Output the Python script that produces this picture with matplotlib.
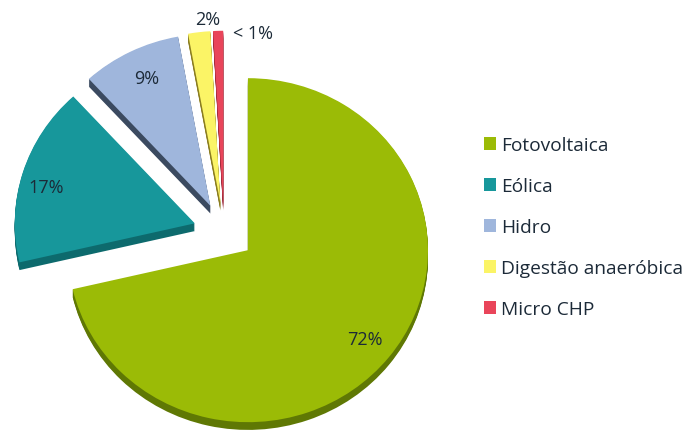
import matplotlib.pyplot as plt
from matplotlib.patches import Wedge
import numpy as np

# energy sources and their share of installed capacity
sources = ['Fotovoltaica', 'Eólica', 'Hidro', 'Digestão anaeróbica', 'Micro CHP']
shares = [72, 17, 9, 2, 0.9]
share_labels = ['72%', '17%', '9%', '2%', '< 1%']

top_colors = ['#9bbb06', '#17979b', '#9fb6dc', '#fbf466', '#e9455a']
side_colors = ['#5f7804', '#0d6a6d', '#3b4a60', '#8a7d20', '#9a2434']

# label placement: distance from the slice tip and a small angular nudge
label_dist = [0.83, 0.85, 0.82, 1.07, 1.00]
label_nudge = [0, 3, -1, -3, -11]

plt.rcParams['font.family'] = ['Open Sans', 'DejaVu Sans']

fig = plt.figure(figsize=(6.88, 4.31), dpi=100)
ax = fig.add_axes([0, 0, 1, 1])

wedges, _ = ax.pie(shares, colors=top_colors, startangle=90, counterclock=False,
                   explode=[0.17] * len(shares),
                   wedgeprops=dict(linewidth=0, zorder=3))

# fake 3d: extrude each slice downwards in a darker shade
depth = 0.045
for w, c in zip(wedges, side_colors):
    for dy in np.linspace(0.005, depth, 8):
        side = Wedge((w.center[0], w.center[1] - dy), w.r, w.theta1, w.theta2,
                     facecolor=c, edgecolor='none', zorder=2)
        ax.add_patch(side)

for w, txt, d, nud in zip(wedges, share_labels, label_dist, label_nudge):
    mid = np.deg2rad((w.theta1 + w.theta2) / 2 + nud)
    x = w.center[0] + d * np.cos(mid)
    y = w.center[1] + d * np.sin(mid)
    ax.text(x, y, txt, ha='center', va='center', fontsize=13,
            color='#1c2a38', zorder=5)

ax.set_aspect('auto')
ax.set_xlim(-224 / 180, (688 - 224) / 180)
ax.set_ylim(-(431 - 233) / 172, 233 / 172)
ax.axis('off')

fig.legend(wedges, sources, loc='upper left', bbox_to_anchor=(0.679, 0.721),
           frameon=False, handlelength=0.63, handleheight=0.63,
           handletextpad=0.22, labelspacing=1.2, fontsize=13.8,
           labelcolor='#1c2a38')

fig.savefig('out.png', dpi=100)
